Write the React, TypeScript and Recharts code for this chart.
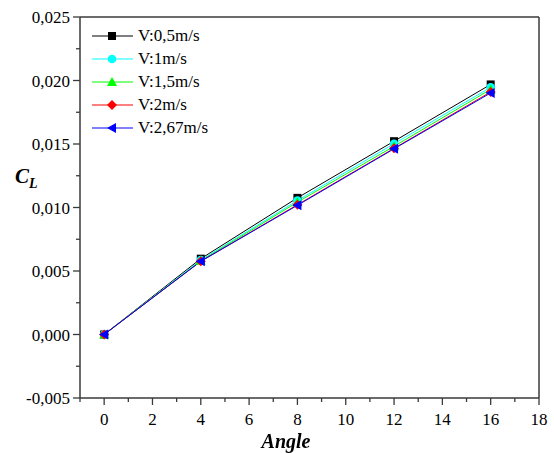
import React from 'react'
import {
  LineChart,
  Line,
  XAxis,
  YAxis,
  Legend,
  ReferenceLine,
} from 'recharts'

// angle of attack (deg)
const angles = [0, 4, 8, 12, 16]

// lift coefficient per flow speed
const v05 = [0, 0.00597, 0.01076, 0.01522, 0.01969]
const v1 = [0, 0.00586, 0.01055, 0.01502, 0.01946]
const v15 = [0, 0.0058, 0.01042, 0.01482, 0.0193]
const v2 = [0, 0.00577, 0.01022, 0.01466, 0.0191]
const v267 = [0, 0.00576, 0.01017, 0.01462, 0.01902]

const seriesNames = ['V:0,5m/s', 'V:1m/s', 'V:1,5m/s', 'V:2m/s', 'V:2,67m/s']

const xMajorTicks = [0, 2, 4, 6, 8, 10, 12, 14, 16, 18]
const xMinorTicks = [-1, 1, 3, 5, 7, 9, 11, 13, 15, 17]
const yMajorTicks = [-0.005, 0, 0.005, 0.01, 0.015, 0.02, 0.025]
const yMinorTicks = [-0.0025, 0.0025, 0.0075, 0.0125, 0.0175, 0.0225]

const FONT = 'Liberation Serif, DejaVu Serif, serif'
const AXIS = '#3a3a3a'

const SERIES = [
  { key: 'v05', name: seriesNames[0], color: '#000000', shape: 'square', values: v05 },
  { key: 'v1', name: seriesNames[1], color: '#00FFFF', shape: 'circle', values: v1 },
  { key: 'v15', name: seriesNames[2], color: '#00FF00', shape: 'triangle', values: v15 },
  { key: 'v2', name: seriesNames[3], color: '#FF0000', shape: 'diamond', values: v2 },
  { key: 'v267', name: seriesNames[4], color: '#0000FF', shape: 'left', values: v267 },
]

const data = angles.map((a, i) => {
  const row: any = { angle: a }
  SERIES.forEach(s => { row[s.key] = s.values[i] })
  return row
})

function Marker({ cx, cy, shape, color }: any) {
  if (cx == null || cy == null) return null
  if (shape === 'square') {
    return <rect x={cx - 4} y={cy - 4} width={8} height={8} fill={color} />
  }
  if (shape === 'circle') {
    return <circle cx={cx} cy={cy} r={4.3} fill={color} />
  }
  if (shape === 'triangle') {
    return <polygon points={`${cx},${cy - 5} ${cx + 5},${cy + 4} ${cx - 5},${cy + 4}`} fill={color} />
  }
  if (shape === 'diamond') {
    return <polygon points={`${cx},${cy - 5} ${cx + 5},${cy} ${cx},${cy + 5} ${cx - 5},${cy}`} fill={color} />
  }
  // triangle pointing left
  return <polygon points={`${cx - 5},${cy} ${cx + 4},${cy - 5} ${cx + 4},${cy + 5}`} fill={color} />
}

function XTick(props: any) {
  const { x, y, payload } = props
  const major = xMajorTicks.includes(payload.value)
  return (
    <g>
      <line x1={x} x2={x} y1={y} y2={y + (major ? 7 : 4)} stroke={AXIS} strokeWidth={1.3} />
      {major && (
        <text x={x} y={y + 27} textAnchor="middle" fontFamily={FONT} fontSize={17} fill="#000">
          {payload.value}
        </text>
      )}
    </g>
  )
}

function YTick(props: any) {
  const { x, y, payload } = props
  const v = Math.round(payload.value * 10000) / 10000
  const major = yMajorTicks.some(t => Math.abs(t - v) < 1e-9)
  return (
    <g>
      <line x1={x - (major ? 7 : 4)} x2={x} y1={y} y2={y} stroke={AXIS} strokeWidth={1.3} />
      {major && (
        <text x={x - 10} y={y + 6} textAnchor="end" fontFamily={FONT} fontSize={17} fill="#000">
          {v.toFixed(3).replace('.', ',')}
        </text>
      )}
    </g>
  )
}

function LegendBox() {
  return (
    <div style={{ fontFamily: FONT, fontSize: 17, color: '#000', lineHeight: '23px' }}>
      {SERIES.map(s => (
        <div key={s.key} style={{ display: 'flex', alignItems: 'center', height: 23 }}>
          <svg width={46} height={14}>
            <line x1={0} x2={41} y1={7} y2={7} stroke={s.color} strokeWidth={1} />
            <Marker cx={20} cy={7} shape={s.shape} color={s.color} />
          </svg>
          <span>{s.name}</span>
        </div>
      ))}
    </div>
  )
}

export default function App() {
  return (
    <div style={{ position: 'fixed', left: 0, top: 0, width: 554, height: 453, background: '#fff', fontFamily: FONT }}>
      <LineChart
        width={554}
        height={453}
        data={data}
        margin={{ top: 17, right: 15, bottom: 0, left: 0 }}
        style={{ fontFamily: FONT }}
      >
        <XAxis
          dataKey="angle"
          type="number"
          domain={[-1, 18]}
          ticks={[...xMinorTicks, ...xMajorTicks].sort((a, b) => a - b)}
          interval={0}
          height={55}
          tickSize={0}
          tickMargin={0}
          tickLine={false}
          tick={<XTick />}
          axisLine={{ stroke: AXIS, strokeWidth: 1.5 }}
          allowDataOverflow
        />
        <YAxis
          type="number"
          domain={[-0.005, 0.025]}
          ticks={[...yMinorTicks, ...yMajorTicks].sort((a, b) => a - b)}
          interval={0}
          width={80}
          tickSize={0}
          tickMargin={0}
          tickLine={false}
          tick={<YTick />}
          axisLine={{ stroke: AXIS, strokeWidth: 1.5 }}
          allowDataOverflow
        />
        <ReferenceLine y={0.025} stroke={AXIS} strokeWidth={1.5} />
        <ReferenceLine x={18} stroke={AXIS} strokeWidth={1.5} />
        <Legend
          layout="vertical"
          verticalAlign="middle"
          align="center"
          content={<LegendBox />}
          wrapperStyle={{ left: 92, top: 24, width: 'auto', height: 'auto' }}
        />
        {SERIES.map(s => (
          <Line
            key={s.key}
            dataKey={s.key}
            name={s.name}
            stroke={s.color}
            strokeWidth={1}
            isAnimationActive={false}
            dot={(p: any) => <Marker key={`${s.key}-${p.index}`} cx={p.cx} cy={p.cy} shape={s.shape} color={s.color} />}
            activeDot={false}
          />
        ))}
      </LineChart>
      <div
        style={{
          position: 'absolute',
          left: 15,
          top: 164,
          fontWeight: 'bold',
          fontStyle: 'italic',
          fontSize: 21,
        }}
      >
        C<sub style={{ fontSize: 14, verticalAlign: -5 }}>L</sub>
      </div>
      <div
        style={{
          position: 'absolute',
          left: 0,
          width: 572,
          top: 431,
          lineHeight: '20px',
          textAlign: 'center',
          fontWeight: 'bold',
          fontStyle: 'italic',
          fontSize: 20,
        }}
      >
        Angle
      </div>
    </div>
  )
}
